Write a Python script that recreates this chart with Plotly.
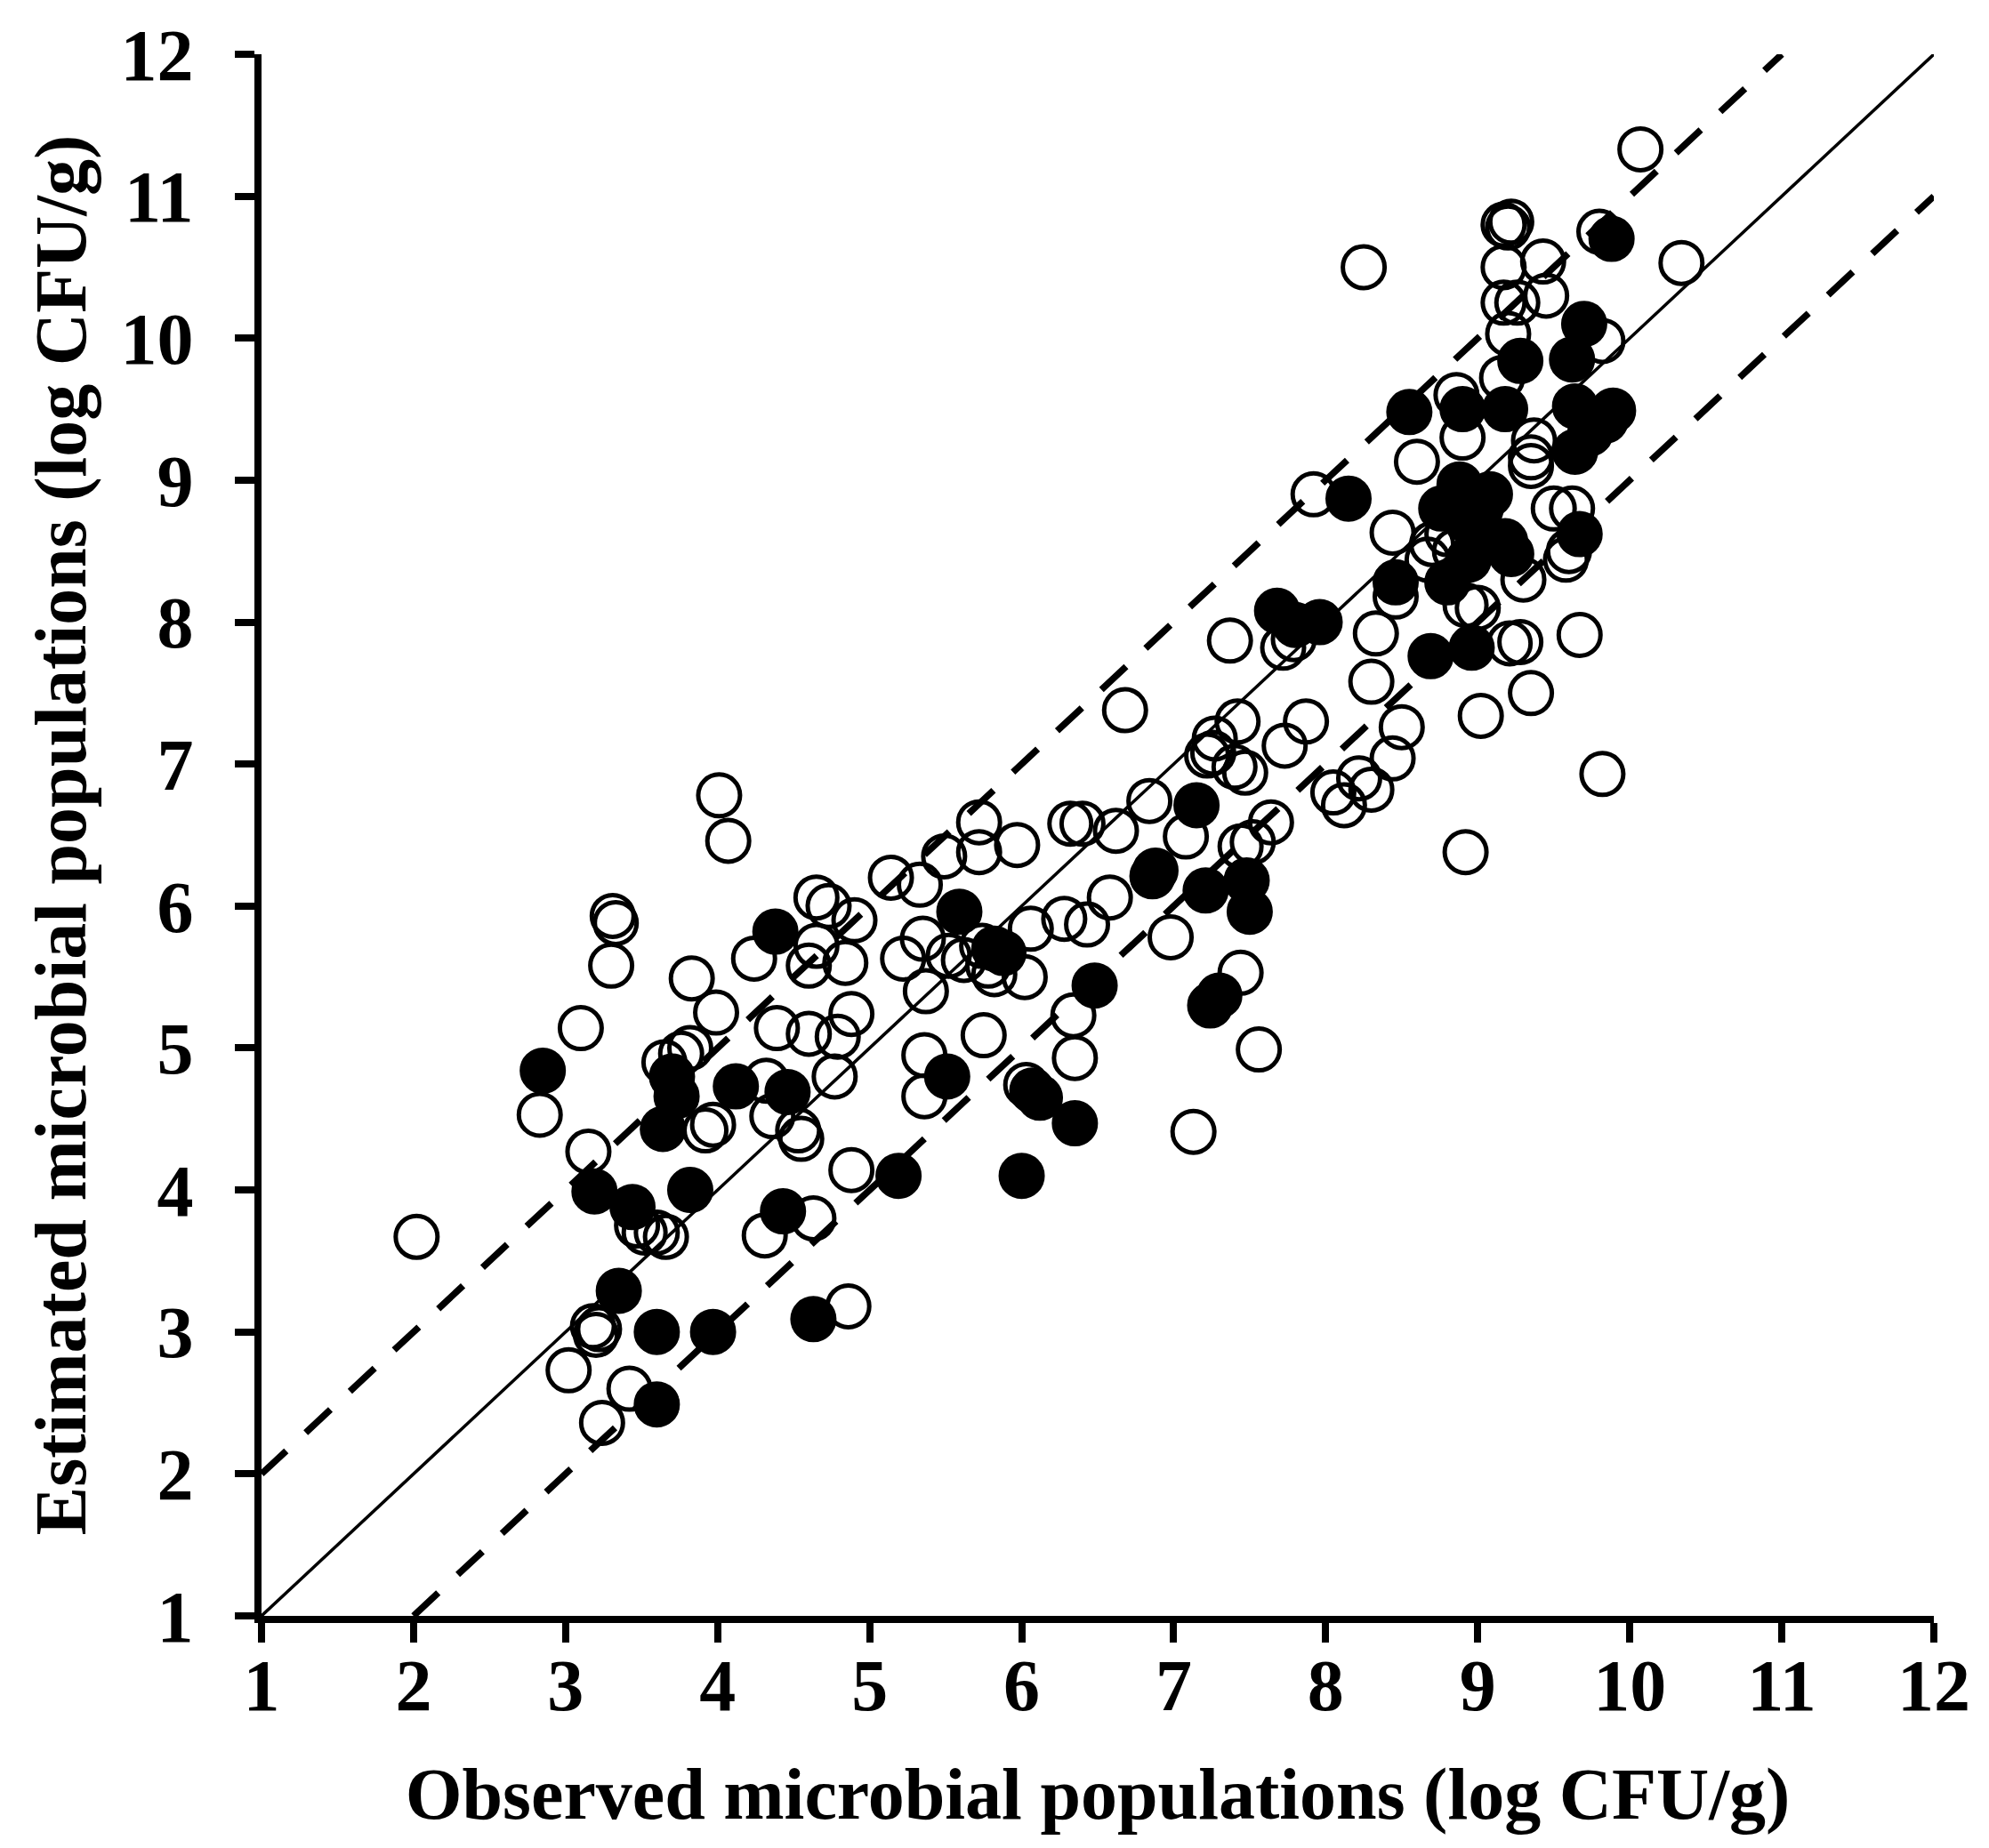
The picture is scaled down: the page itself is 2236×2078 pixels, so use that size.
import plotly.graph_objects as go

# observed vs estimated (log CFU/g)
# open circles
open_obs = [
    2.02, 2.83, 3.10, 3.15, 3.30, 3.31, 3.33, 3.02, 3.18, 3.20, 3.22, 3.24,
    3.42, 3.47, 3.52, 3.60, 3.66, 3.65, 3.76, 3.82, 3.83, 3.92, 3.97, 3.99,
    4.01, 4.07, 4.24, 4.31, 4.32, 4.36, 4.39, 4.53, 4.55, 4.63, 4.60, 4.65,
    4.65, 4.60, 4.73, 4.77, 4.79, 4.84, 4.88, 4.90, 4.86, 4.88, 5.14, 5.22,
    5.33, 5.35, 5.37, 5.36, 5.36, 5.49, 5.52, 5.62, 5.72, 5.72, 5.74, 5.78,
    5.82, 5.75, 5.97, 6.02, 6.06, 6.03, 6.32, 6.40, 6.28, 6.43, 6.34, 6.35,
    6.58, 6.62, 6.68, 6.84, 6.98, 7.13, 7.08, 7.22, 7.27, 7.26, 7.37, 7.40,
    7.47, 7.42, 7.44, 7.52, 7.44, 7.56, 7.64, 7.73, 7.72, 7.79, 7.87, 7.92,
    8.05, 8.12, 8.25, 8.22, 8.30, 8.30, 8.33, 8.44, 8.50, 8.44, 8.46, 8.60,
    8.70, 8.67, 8.86, 8.90, 8.92, 8.92, 9.02, 9.17, 9.22, 9.20, 9.17, 9.43,
    9.17, 9.26, 9.45, 9.20, 9.16, 9.37, 9.35, 9.35, 9.82, 9.50, 9.62, 9.58,
    9.60, 9.30, 9.21, 9.28, 9.35, 9.67, 9.82, 9.80, 10.07, 10.34, 8.85, 8.80,
    9.00,
]
open_est = [
    3.67, 4.53, 5.14, 4.27, 5.58, 5.93, 5.88, 2.73, 3.04, 2.98, 3.02, 2.36,
    2.60, 3.75, 3.70, 3.70, 3.67, 4.90, 4.96, 5.00, 5.49, 4.42, 4.46, 5.25,
    6.78, 6.46, 5.63, 3.68, 4.77, 4.52, 5.14, 4.42, 4.36, 3.80, 5.58, 5.72,
    6.06, 5.10, 6.00, 4.80, 5.08, 5.60, 5.24, 5.90, 3.18, 4.14, 6.20, 5.63,
    6.15, 5.77, 5.40, 4.95, 4.66, 6.35, 5.65, 5.62, 6.59, 6.38, 5.72, 5.58,
    5.52, 5.09, 6.43, 5.50, 5.84, 4.74, 6.58, 6.58, 5.91, 5.87, 5.23, 4.93,
    6.06, 6.53, 7.38, 6.74, 5.78, 4.41, 6.49, 7.06, 7.18, 7.08, 7.87, 6.98,
    6.94, 7.30, 6.42, 6.45, 5.53, 4.99, 6.59, 7.13, 7.82, 7.88, 7.30, 8.90,
    6.80, 6.71, 10.50, 6.90, 6.82, 7.58, 7.92, 7.04, 7.26, 8.63, 8.18, 9.13,
    8.55, 8.44, 9.60, 9.30, 8.12, 6.38, 7.34, 10.80, 10.82, 10.78, 10.50, 10.54,
    10.25, 10.25, 10.30, 10.03, 9.72, 9.28, 9.16, 9.10, 9.98, 8.80, 8.80, 8.44,
    8.50, 8.30, 7.85, 7.86, 7.50, 7.91, 6.93, 10.75, 11.33, 10.53, 8.50, 8.62,
    8.10,
]

# filled circles
filled_obs = [
    2.85, 3.19, 3.35, 3.44, 3.60, 3.60, 3.64, 3.70, 3.73, 3.82, 3.97, 4.12,
    4.38, 4.43, 4.46, 4.63, 5.19, 5.51, 5.59, 5.88, 5.82, 6.00, 6.07, 6.12,
    6.35, 6.48, 6.86, 6.88, 7.15, 7.21, 7.24, 7.30, 7.48, 7.50, 7.68, 7.80,
    7.96, 8.15, 8.46, 8.55, 8.69, 8.80, 8.90, 8.96, 8.88, 9.08, 8.96, 9.18,
    8.94, 8.76, 9.02, 9.28, 9.18, 9.22, 9.62, 9.70, 9.64, 9.89, 9.64, 9.74,
    9.84, 9.67, 9.88,
]
filled_est = [
    4.84, 3.99, 3.29, 3.88, 3.00, 2.49, 4.43, 4.80, 4.66, 4.00, 3.00, 4.73,
    5.82, 3.85, 4.69, 3.09, 4.10, 4.80, 5.96, 5.67, 5.70, 4.10, 4.70, 4.65,
    4.47, 5.44, 6.21, 6.25, 6.71, 6.11, 5.30, 5.37, 6.18, 5.96, 8.08, 7.98,
    8.00, 8.87, 8.28, 9.48, 7.76, 8.28, 9.50, 7.82, 8.97, 8.90, 8.69, 8.57,
    8.44, 8.80, 8.80, 9.84, 9.50, 8.48, 9.85, 10.10, 9.52, 9.49, 9.20, 9.33,
    9.42, 8.62, 10.70,
]

axis_min, axis_max = 1, 12
band = 1  # +/- 1 log CFU/g acceptance lines
tick_vals = list(range(axis_min, axis_max + 1))

FONT = 'Liberation Serif, Times New Roman, serif'

fig = go.Figure()

# reference lines
fig.add_trace(go.Scatter(
    x=[axis_min, axis_max], y=[axis_min, axis_max],
    mode='lines', line=dict(color='black', width=3.5),
    hoverinfo='skip', showlegend=False,
))
fig.add_trace(go.Scatter(
    x=[axis_min, axis_max - band], y=[axis_min + band, axis_max],
    mode='lines', line=dict(color='black', width=7.5, dash='38px,30px'),
    hoverinfo='skip', showlegend=False,
))
fig.add_trace(go.Scatter(
    x=[axis_min + band, axis_max], y=[axis_min, axis_max - band],
    mode='lines', line=dict(color='black', width=7.5, dash='38px,30px'),
    hoverinfo='skip', showlegend=False,
))

# data points
fig.add_trace(go.Scatter(
    x=open_obs, y=open_est, mode='markers',
    marker=dict(symbol='circle', size=47, color='rgba(0,0,0,0)',
                line=dict(color='black', width=5)),
    showlegend=False,
))
fig.add_trace(go.Scatter(
    x=filled_obs, y=filled_est, mode='markers',
    marker=dict(symbol='circle', size=47, color='black',
                line=dict(color='black', width=5)),
    showlegend=False,
))

axis_style = dict(
    range=[axis_min, axis_max],
    tickmode='array', tickvals=tick_vals,
    showline=True, linecolor='black', linewidth=8,
    ticks='outside', ticklen=22, tickwidth=8, tickcolor='black',
    showgrid=False, zeroline=False,
    tickfont=dict(family=FONT, size=82, color='black', weight='bold'),
    automargin=False,
)

title_font = dict(family=FONT, size=82, color='black', weight='bold')

fig.update_layout(
    width=2236, height=2078,
    margin=dict(l=286, r=70, t=53, b=269),
    plot_bgcolor='white', paper_bgcolor='white',
    xaxis=dict(
        **axis_style,
        ticklabelstandoff=-22,
        title=dict(text='Observed microbial populations (log CFU/g)',
                   font=title_font, standoff=50),
    ),
    yaxis=dict(
        **axis_style,
        ticklabelstandoff=30,
        title=dict(text='Estimated microbial populations (log CFU/g)',
                   font=title_font, standoff=15),
    ),
)

fig.write_html('out.html')
